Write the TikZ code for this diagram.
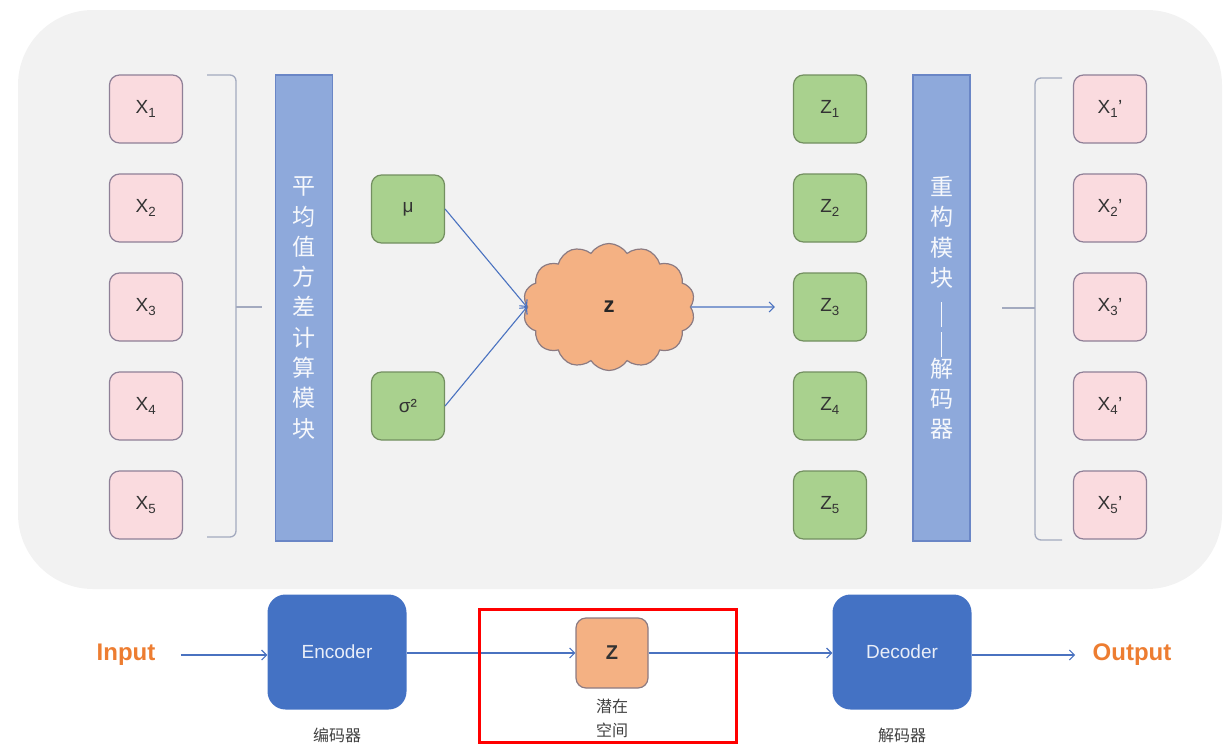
\documentclass[tikz,border=0pt]{standalone}
\usepackage{fontspec}
\setmainfont{Liberation Sans}
\newfontfamily\cjk{Noto Sans CJK SC}
\usetikzlibrary{shapes.symbols,arrows.meta}
\definecolor{bgc}{HTML}{F2F2F2}
\definecolor{xfill}{HTML}{FADBDF}
\definecolor{xborder}{HTML}{8F8097}
\definecolor{gfill}{HTML}{A9D18E}
\definecolor{gborder}{HTML}{738F60}
\definecolor{barfill}{HTML}{8EA9DB}
\definecolor{barborder}{HTML}{6A86C6}
\definecolor{bluebox}{HTML}{4472C4}
\definecolor{ofill}{HTML}{F4B183}
\definecolor{oborder}{HTML}{8C7B82}
\definecolor{ioc}{HTML}{ED7D31}
\definecolor{arrc}{HTML}{4A72C0}
\definecolor{bracec}{HTML}{A3AABF}
\definecolor{txt}{HTML}{333333}
\definecolor{lbl}{HTML}{404040}
\begin{document}
\begin{tikzpicture}[x=1pt,y=-1pt,
  sq/.style={rounded corners=10pt,minimum width=73pt,minimum height=68pt,line width=1.2pt,inner sep=0pt,font=\fontsize{19}{21}\selectfont,text=txt},
  xbox/.style={sq,draw=xborder,fill=xfill},
  gbox/.style={sq,draw=gborder,fill=gfill},
  barbox/.style={draw=barborder,fill=barfill,line width=1.2pt,minimum width=57pt,minimum height=466pt,inner sep=0pt,align=center,text=white!92!barfill,font=\cjk\fontsize{23}{30.3}\selectfont},
  bigbox/.style={fill=bluebox,rounded corners=18pt,minimum width=139pt,minimum height=115pt,inner sep=0pt,text=white!88!bluebox,font=\fontsize{19}{21}\selectfont},
  arr/.style={draw=arrc,line width=1.1pt,-{Straight Barb[length=5pt,width=10pt]}},
  brace/.style={draw=bracec,line width=1.3pt,rounded corners=6pt},
  lab/.style={text=lbl,font=\cjk\fontsize{16}{24}\selectfont,align=center},
  io/.style={text=ioc,font=\bfseries\fontsize{24}{26}\selectfont}
]
\useasboundingbox (0,0) rectangle (1224,745);
\fill[bgc,rounded corners=75pt] (18,10) rectangle (1222,589);

% left column, latent, right columns
\foreach \i/\y in {1/109,2/208,3/307,4/406,5/505} {
  \node[xbox] (x\i) at (146,\y) {X\textsubscript{\i}};
  \node[gbox] (z\i) at (830,\y) {Z\textsubscript{\i}};
  \node[xbox] (xp\i) at (1110,\y) {X\textsubscript{\i}'};
}

% braces
\draw[brace] (207,75) -- (236,75) -- (236,537) -- (207,537);
\draw[brace] (236,307) -- (262,307);
\draw[brace] (1062,78) -- (1035,78) -- (1035,540) -- (1062,540);
\draw[brace] (1035,308) -- (1002,308);

% bars
\node[barbox] (encbar) at (304,308) {平\\均\\值\\方\\差\\计\\算\\模\\块};
\node[barbox] (decbar) at (941.5,308) {重\\构\\模\\块\\\rule[-10pt]{1.4pt}{25pt}\\\rule[-10pt]{1.4pt}{25pt}\\解\\码\\器};

% mu, sigma
\node[gbox] (mu) at (408,209) {μ};
\node[gbox] (sig) at (408,406) {σ²};

% cloud
\node[cloud,cloud puffs=14,cloud puff arc=115,aspect=1.4,draw=oborder,fill=ofill,line width=1.2pt,
  minimum width=172pt,minimum height=127pt,inner sep=0pt,font=\bfseries\fontsize{22}{24}\selectfont,text=black!85] (cl) at (609,307) {z};

\draw[arr] (mu.east) -- (cl.west);
\draw[arr] (sig.east) -- (cl.west);
\draw[arr,shorten >=18pt] (cl.east) -- (z3.west);

% bottom row
\node[io] (inp) at (126,655) {Input};
\node[bigbox] (enc) at (337,652) {Encoder};
\node[sq,draw=oborder,fill=ofill,minimum width=72pt,minimum height=70pt,font=\bfseries\fontsize{20}{22}\selectfont,text=black!80] (zb) at (612,653) {Z};
\node[bigbox] (dec) at (902,652) {Decoder};
\node[io] (outp) at (1132,655) {Output};

\draw[arr] (inp.east) ++(22,0) coordinate (inpa) (inpa) -- (enc.west |- inpa);
\draw[arr] (enc.east |- zb.west) -- (zb.west);
\draw[arr] (zb.east) -- (dec.west |- zb.east);
\draw[arr,shorten >=14pt] (dec.east |- outp.west) -- (outp.west);

\node[lab] (enclab) at (337,735) {编码器};
\node[lab] (zlab) at (612,718) {潜在\\空间};
\node[lab] (declab) at (902,735) {解码器};

\draw[red,line width=3.5pt] (479.5,609.5) rectangle (736.5,742.5);
\end{tikzpicture}
\end{document}
